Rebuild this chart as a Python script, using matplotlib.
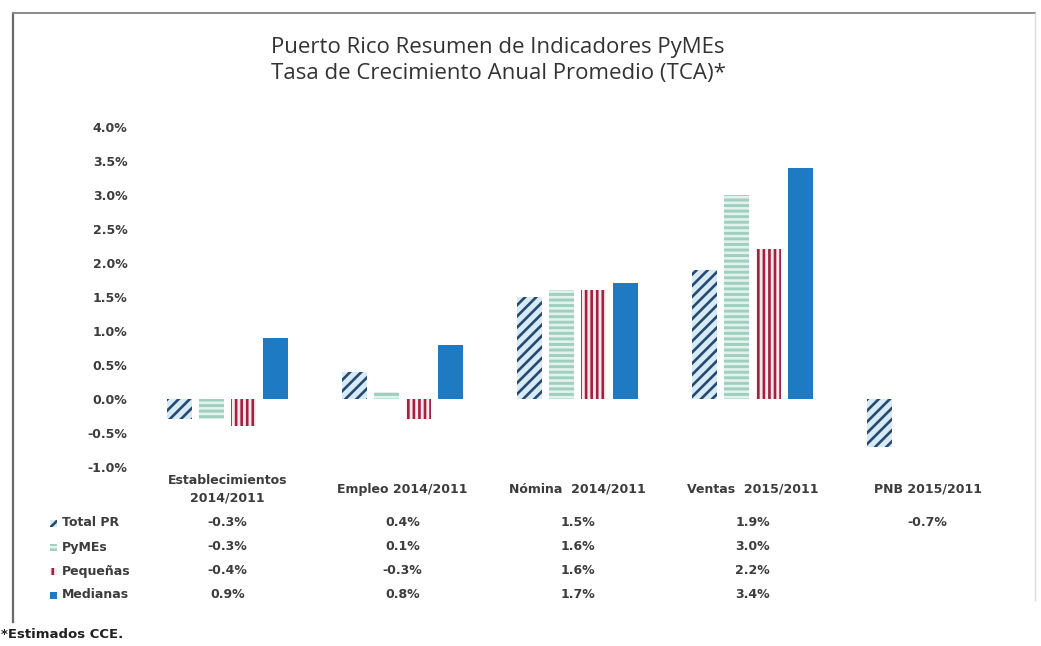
import matplotlib
matplotlib.use("Agg")
import matplotlib.pyplot as plt
import matplotlib.transforms as mtransforms
from matplotlib.patches import Rectangle
from matplotlib.lines import Line2D
import numpy as np

# ---- data ----
categories = ["Establecimientos\n2014/2011", "Empleo 2014/2011", "Nómina  2014/2011",
              "Ventas  2015/2011", "PNB 2015/2011"]
series_names = ["Total PR", "PyMEs", "Pequeñas", "Medianas"]
total_pr = [-0.3, 0.4, 1.5, 1.9, -0.7]
pymes = [-0.3, 0.1, 1.6, 3.0, None]
pequenas = [-0.4, -0.3, 1.6, 2.2, None]
medianas = [0.9, 0.8, 1.7, 3.4, None]
yticks = [-1.0, -0.5, 0.0, 0.5, 1.0, 1.5, 2.0, 2.5, 3.0, 3.5, 4.0]
title_lines = ["Puerto Rico Resumen de Indicadores PyMEs",
               "Tasa de Crecimiento Anual Promedio (TCA)*"]
footnote = "*Estimados CCE."

series = [total_pr, pymes, pequenas, medianas]
styles = [
    dict(facecolor="#d6ebf7", edgecolor="#27496e", hatch="///"),
    dict(facecolor="#9fd0bf", edgecolor="#e2f2ec", hatch="---"),
    dict(facecolor="#fbe9ee", edgecolor="#a3203e", hatch="|||"),
    dict(facecolor="#1f7ac4", edgecolor="#1f7ac4", hatch=None),
]

plt.rcParams["hatch.linewidth"] = 1.9
txt_font = ["DejaVu Sans"]
txt_color = "#3c3c3c"

W, H = 1041, 646
fig = plt.figure(figsize=(W / 100, H / 100), dpi=100)
fig.patch.set_facecolor("white")

# frame (left and top dark, right faint)
fig.lines.append(Line2D([13 / W, 13 / W], [1 - 13 / H, 1 - 622 / H],
                        transform=fig.transFigure, color="#6a6a6a", linewidth=1.6))
fig.lines.append(Line2D([13 / W, 1035 / W], [1 - 13 / H, 1 - 13 / H],
                        transform=fig.transFigure, color="#8a8a8a", linewidth=1.4))
fig.lines.append(Line2D([1035 / W, 1035 / W], [1 - 13 / H, 1 - 600 / H],
                        transform=fig.transFigure, color="#dcdcdc", linewidth=1.0))

ax = fig.add_axes([140 / W, 1 - 467 / H, 875 / W, 340 / H])
x = np.arange(len(categories))
bw = 0.145
step = 0.183
for i, (vals, st) in enumerate(zip(series, styles)):
    v = np.array([np.nan if a is None else a for a in vals], dtype=float)
    ax.bar(x + (i - 1.5) * step, v, width=bw, linewidth=0, **st)

ax.set_xlim(-0.5, len(categories) - 0.5)
ax.set_ylim(-1.0, 4.0)
ax.set_yticks(yticks)
ax.set_yticklabels([f"{t:.1f}%" for t in yticks], family=txt_font,
                   fontsize=9, fontweight="bold", color=txt_color)
ax.tick_params(axis="y", length=0, pad=9)
ax.set_xticks([])
for s in ax.spines.values():
    s.set_visible(False)

# title
fig.text(498 / W, 1 - 47 / H, title_lines[0], ha="center", va="center",
         fontsize=16, family="Open Sans", color="#333333")
fig.text(498 / W, 1 - 73 / H, title_lines[1], ha="center", va="center",
         fontsize=16, family="Open Sans", color="#333333")

# data table
tr = mtransforms.blended_transform_factory(ax.transData, fig.transFigure)
for xi, cat in zip(x, categories):
    fig.text(xi, 1 - 489 / H, cat, transform=tr, ha="center", va="center",
             fontsize=9, fontweight="bold", family=txt_font, color=txt_color,
             linespacing=1.45)

row_y = [523, 547, 571, 595]
for r, (name, vals, st) in enumerate(zip(series_names, series, styles)):
    yy = 1 - row_y[r] / H
    fig.patches.append(Rectangle((50 / W, yy - 3.5 / H), 7 / W, 7 / H,
                                 transform=fig.transFigure, linewidth=0, **st))
    fig.text(62 / W, yy, name, ha="left", va="center", fontsize=9,
             fontweight="bold", family=txt_font, color=txt_color)
    for xi, v in zip(x, vals):
        if v is None:
            continue
        fig.text(xi, yy, f"{v:.1f}%", transform=tr, ha="center", va="center",
                 fontsize=9, fontweight="bold", family=txt_font, color=txt_color)

fig.text(1 / W, 1 - 634 / H, footnote, ha="left", va="center", fontsize=9.5,
         fontweight="bold", family=txt_font, color="#202020")

fig.savefig("out.png", dpi=100)
